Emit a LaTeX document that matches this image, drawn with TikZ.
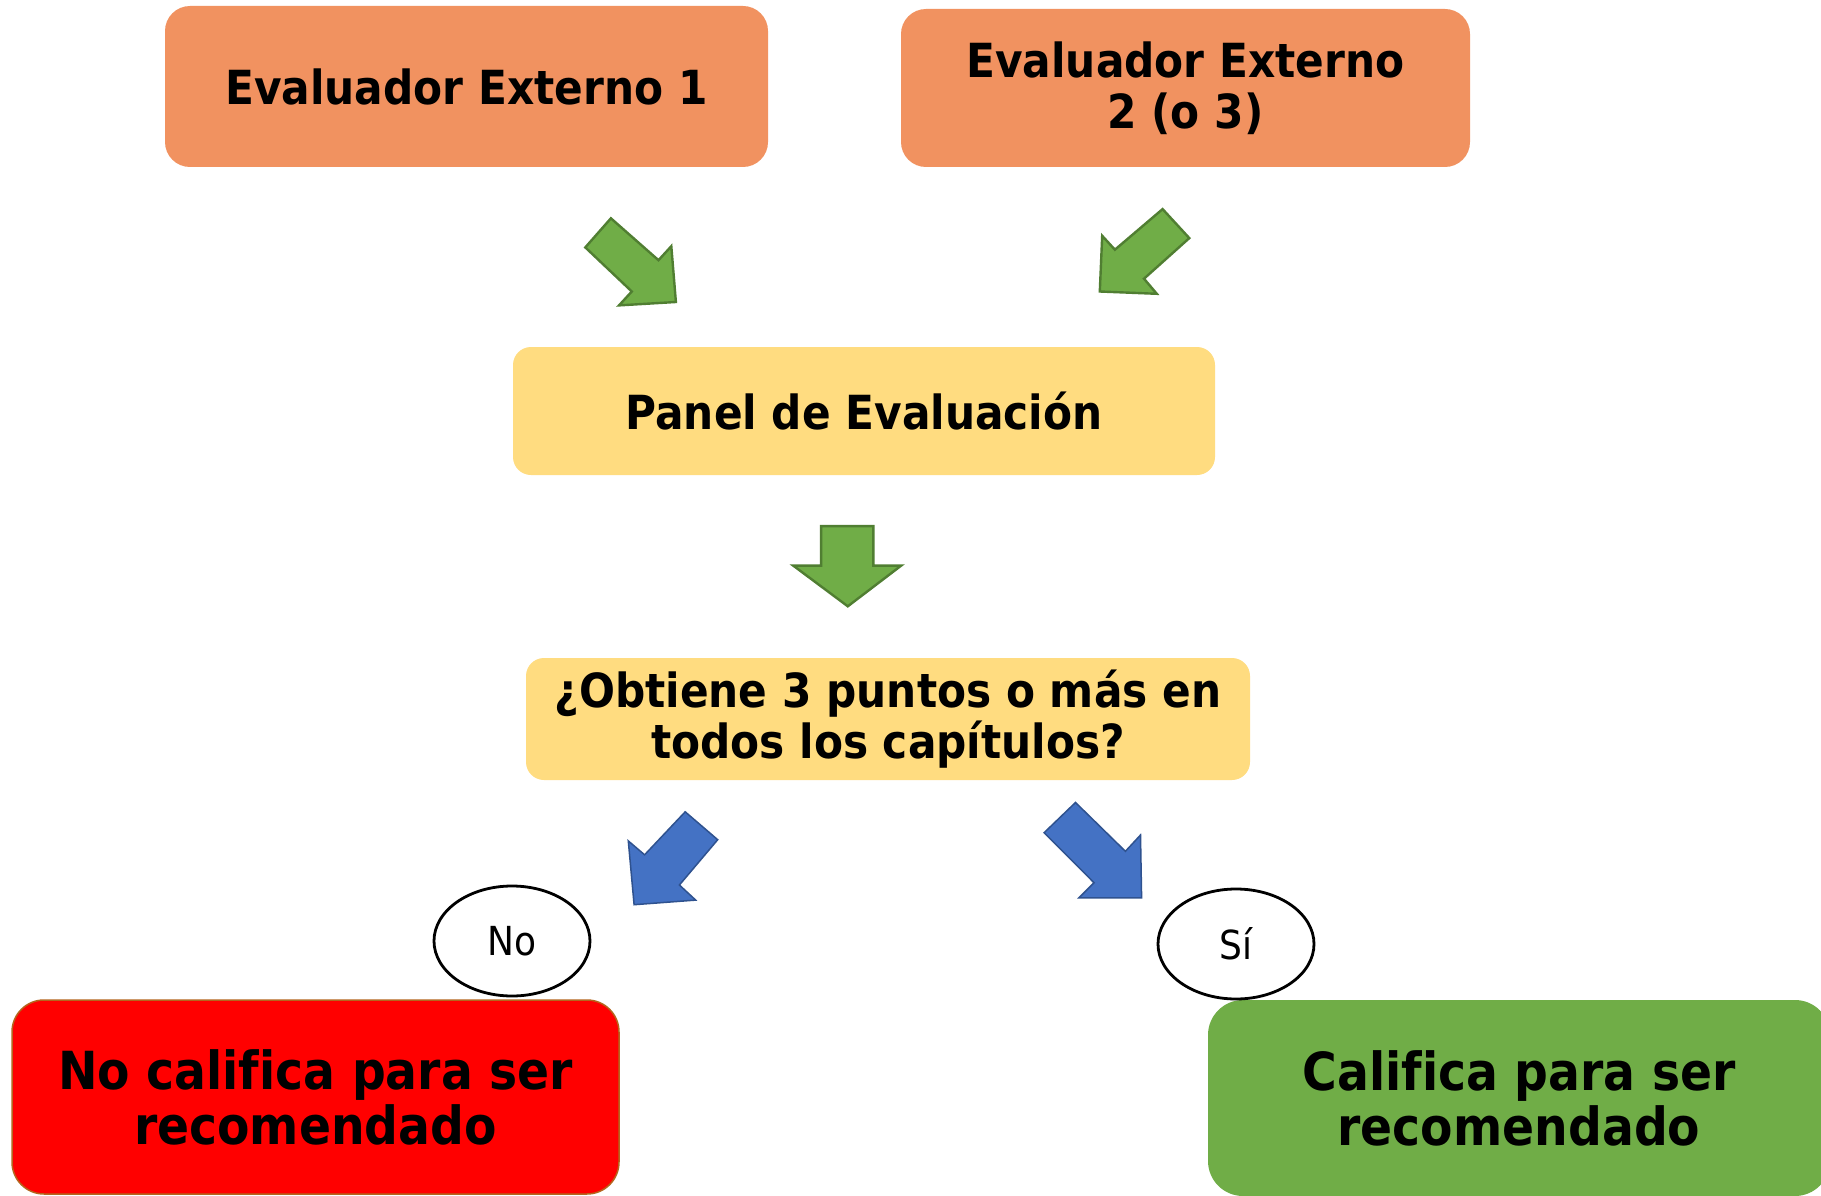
\documentclass[tikz,border=0pt]{standalone}
\usepackage{fontspec}
\setmainfont{DejaVu Sans}[FakeStretch=0.9, Ligatures=NoCommon]
\usetikzlibrary{shapes.geometric}
\definecolor{orangebox}{HTML}{F19260}
\definecolor{yellowbox}{HTML}{FFDC80}
\definecolor{greenfill}{HTML}{70AD47}
\definecolor{greenline}{HTML}{507E32}
\definecolor{bluefill}{HTML}{4472C4}
\definecolor{blueline}{HTML}{2F528F}
\definecolor{redline}{HTML}{B5651D}
\tikzset{
  box/.style={rectangle, align=center, inner sep=0pt, font=\bfseries\fontsize{47}{51}\selectfont},
  bigbox/.style={rectangle, align=center, inner sep=0pt, font=\bfseries\fontsize{52.5}{55}\selectfont},
  lbl/.style={ellipse, draw=black, line width=2.8pt, fill=white, minimum width=156pt, minimum height=110pt, inner sep=0pt, font=\fontsize{40}{44}\selectfont},
  garrow/.style={fill=greenfill, draw=greenline, line width=2.4pt, line join=miter},
  barrow/.style={fill=bluefill, draw=blueline, line width=1.5pt, line join=miter},
}
\begin{document}
\begin{tikzpicture}[x=1pt,y=-1pt]
\useasboundingbox (0,0) rectangle (1821,1196);
\fill[white] (0,0) rectangle (1821,1196);

% boxes
\node[box, fill=orangebox, rounded corners=25pt, minimum width=603pt, minimum height=161pt] (e1) at (466.5,86.5) {Evaluador Externo 1};
\node[box, fill=orangebox, rounded corners=25pt, minimum width=569pt, minimum height=158pt] (e2) at (1185.5,88) {Evaluador Externo\\2 (o 3)};
\node[box, fill=yellowbox, rounded corners=18pt, minimum width=702pt, minimum height=128pt] (panel) at (864,411) {Panel de Evaluación};
\node[box, fill=yellowbox, rounded corners=18pt, minimum width=724pt, minimum height=122pt] (q) at (888,719) {¿Obtiene 3 puntos o más en\\todos los capítulos?};
\node[bigbox, fill=red, draw=redline, line width=1.5pt, rounded corners=32pt, minimum width=607pt, minimum height=194pt] (no) at (315.5,1097) {No califica para ser\\recomendado};
\node[bigbox, fill=greenfill, rounded corners=35pt, minimum width=622pt, minimum height=196pt] (si) at (1519,1098) {Califica para ser\\recomendado};

% labels
\node[lbl] (lno) at (512,941) {No};
\node[lbl] (lsi) at (1236,944) {Sí};

% green block arrows
\draw[garrow] (585.3,247.4) -- (610.9,218.3) -- (658.5,260.2) -- (671.3,246.2) -- (675.9,302.0) -- (619.0,305.4) -- (631.8,291.5) -- cycle;
\draw[garrow] (1162.6,209.1) -- (1189.3,238.1) -- (1144.0,278.7) -- (1156.8,293.8) -- (1099.8,291.5) -- (1102.2,235.8) -- (1114.9,249.7) -- cycle;
\draw[garrow] (821.1,526.1) -- (873.4,526.1) -- (873.4,565.6) -- (901.2,565.6) -- (847.8,606.3) -- (793.2,565.6) -- (821.1,565.6) -- cycle;

% blue block arrows
\draw[barrow] (685.2,811.8) -- (717.7,839.7) -- (679.4,885.0) -- (695.7,900.1) -- (634.1,904.7) -- (628.3,840.9) -- (644.6,854.8) -- cycle;
\draw[barrow] (1075.5,802.5) -- (1125.4,851.3) -- (1140.5,835.0) -- (1141.6,897.8) -- (1078.9,897.8) -- (1094.0,882.7) -- (1044.1,832.7) -- cycle;
\end{tikzpicture}
\end{document}
